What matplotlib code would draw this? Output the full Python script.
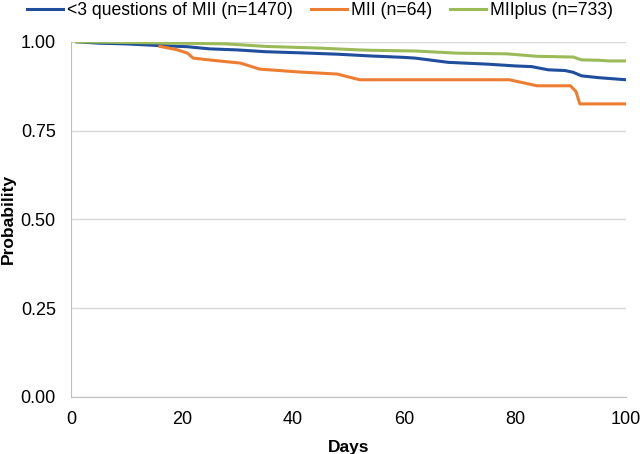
import matplotlib
matplotlib.use("Agg")
import matplotlib.pyplot as plt

plt.rcParams['font.family'] = ['Liberation Sans', 'DejaVu Sans']

# Kaplan-Meier style curves
blue_days = [1, 5, 10, 15, 21, 25, 30, 35, 41, 48, 54, 60, 62, 65, 68, 75, 80, 83, 86, 89, 90.5, 92, 95, 100]
blue_prob = [1.0, 0.996, 0.994, 0.99, 0.986, 0.98, 0.977, 0.972, 0.969, 0.965, 0.96, 0.956, 0.954, 0.948, 0.942, 0.937, 0.932, 0.93, 0.921, 0.919, 0.914, 0.904, 0.899, 0.893]

orange_days = [16, 19, 21, 22, 26, 30.5, 34, 41, 48, 52, 79, 84, 90, 91, 91.7, 100]
orange_prob = [0.987, 0.978, 0.968, 0.954, 0.947, 0.94, 0.923, 0.915, 0.909, 0.893, 0.893, 0.876, 0.876, 0.86, 0.825, 0.825]

green_days = [1, 10, 20, 28, 31, 35, 45, 52, 54, 62, 69.5, 78.5, 84, 90.5, 92, 95, 97, 100]
green_prob = [1.0, 0.998, 0.996, 0.994, 0.991, 0.987, 0.982, 0.977, 0.976, 0.974, 0.968, 0.966, 0.959, 0.957, 0.949, 0.948, 0.946, 0.946]

labels = ['<3 questions of MII (n=1470)', 'MII (n=64)', 'MIIplus (n=733)']
colors = ['#1F4E9C', '#ED7D31', '#9BBB59']

fig = plt.figure(figsize=(6.4, 4.54), dpi=100)
ax = fig.add_axes([0.111, 0.126, 0.867, 0.782])

ax.plot(blue_days, blue_prob, color=colors[0], lw=2.2, label=labels[0])
ax.plot(orange_days, orange_prob, color=colors[1], lw=2.2, label=labels[1])
ax.plot(green_days, green_prob, color=colors[2], lw=2.2, label=labels[2])

ax.set_xlim(0, 100)
ax.set_ylim(0, 1.0)
ax.set_xticks([0, 20, 40, 60, 80, 100])
ax.set_yticks([0, 0.25, 0.5, 0.75, 1.0])
ax.set_yticklabels(['0.00', '0.25', '0.50', '0.75', '1.00'])
ax.tick_params(labelsize=13, length=0, labelcolor='black')
ax.tick_params(axis='y', pad=11)
ax.tick_params(axis='x', pad=10)

ax.grid(axis='y', color='#D9D9D9', lw=1)
ax.set_axisbelow(True)
for s in ['top', 'right']:
    ax.spines[s].set_visible(False)
ax.spines['left'].set_color('#BFBFBF')
ax.spines['bottom'].set_color('#BFBFBF')

ax.set_xlabel('Days', fontsize=12.5, fontweight='bold', labelpad=9)
ax.set_ylabel('Probability', fontsize=12.5, fontweight='bold')
ax.yaxis.set_label_coords(-0.099, 0.5)

fig.legend(*ax.get_legend_handles_labels(), loc='upper left',
           bbox_to_anchor=(27 / 640, 0.996), ncol=3, frameon=False,
           fontsize=12.7, handlelength=2.05, handletextpad=0.23,
           columnspacing=1.0, borderpad=0, borderaxespad=0)

fig.savefig('out.png', dpi=100)
